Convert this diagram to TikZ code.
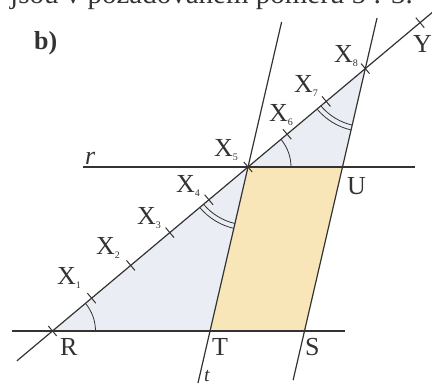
\documentclass[tikz,border=0pt]{standalone}
\usepackage{fontspec}
\setmainfont{Liberation Serif}
\usetikzlibrary{calc}
\definecolor{ink}{HTML}{333333}
\definecolor{paral}{HTML}{F8E6B8}
\definecolor{tri}{HTML}{EAEEF4}
\newcommand\Xs[1]{\raisebox{-3.5pt}{\fontsize{10}{10}\selectfont #1}}
\begin{document}
\begin{tikzpicture}[x=1pt,y=1pt,
  ln/.style={draw=ink, line width=1.2pt},
  tickmark/.style={draw=ink, line width=1pt},
  lab/.style={inner sep=0pt, anchor=base west, font=\fontsize{26}{26}\selectfont, text=ink},
  arcmark/.style={draw=ink, line width=0.8pt}]
\useasboundingbox (0,0) rectangle (432,387);
% points
\coordinate (R) at (52.5,56);
\foreach \i in {1,...,8} \coordinate (X\i) at ($(R)+\i*(39.1,32.8)$);
\coordinate (Yt) at ($(R)+9.4*(39.1,32.8)$);
\coordinate (La) at ($(R)-0.91*(39.1,32.8)$);
\coordinate (Lb) at ($(R)+9.95*(39.1,32.8)$);
\coordinate (T) at (210,56);
\coordinate (S) at (304.5,56);
\coordinate (U) at (342.5,220);
\coordinate (t1) at (281.6,365);
\coordinate (t2) at (198,4);
\coordinate (s1) at (377,368.9);
\coordinate (s2) at (293.1,6.8);
\coordinate (b1) at (12,56);
\coordinate (b2) at (345,56);
\coordinate (r1) at (83,220);
\coordinate (r2) at (415,220);
% fills
\fill[tri] (R) -- (S) -- (X8) -- cycle;
\fill[paral] (X5) -- (T) -- (S) -- (U) -- cycle;
% lines
\draw[ln] (b1) -- (b2);
\draw[ln] (r1) -- (r2);
\draw[ln] (La) -- (Lb);
\draw[ln] (t1) -- (t2);
\draw[ln] (s1) -- (s2);
% ticks
\foreach \p in {R,X1,X2,X3,X4,X5,X6,X7,X8,Yt}
  \draw[tickmark] ($(\p)+(-4.2,5)$) -- ($(\p)+(4.2,-5)$);
% angle marks
\draw[arcmark] ($(R)+(43,0)$) arc[start angle=0, end angle=40, radius=43];
\draw[arcmark] ($(X5)+(43,0)$) arc[start angle=0, end angle=40, radius=43];
\draw[arcmark] ($(X5)+(220:58)$) arc[start angle=220, end angle=256.95, radius=58];
\draw[arcmark] ($(X5)+(220:63)$) arc[start angle=220, end angle=256.95, radius=63];
\draw[arcmark] ($(X8)+(220:58)$) arc[start angle=220, end angle=256.95, radius=58];
\draw[arcmark] ($(X8)+(220:63)$) arc[start angle=220, end angle=256.95, radius=63];
% labels
\node[inner sep=0pt, anchor=base west, font=\fontsize{29}{29}\selectfont, text=ink] (head) at (10,383.5) {jsou v požadovaném poměru 5 : 3.};
\node[lab, font=\bfseries\fontsize{26}{26}\selectfont] (lb) at (34,337) {b)};
\node[lab] (lX1) at (57,102) {X\Xs{1}};
\node[lab] (lX2) at (96,132) {X\Xs{2}};
\node[lab] (lX3) at (137,162) {X\Xs{3}};
\node[lab] (lX4) at (176,194) {X\Xs{4}};
\node[lab] (lX5) at (214,230) {X\Xs{5}};
\node[lab] (lX6) at (269,265) {X\Xs{6}};
\node[lab] (lX7) at (294,294) {X\Xs{7}};
\node[lab] (lX8) at (334,324) {X\Xs{8}};
\node[lab] (lY) at (413,334) {Y};
\node[lab] (lU) at (347,192) {U};
\node[lab] (lR) at (60,31) {R};
\node[lab] (lT) at (212,31) {T};
\node[lab] (lS) at (305,31) {S};
\node[lab, font=\itshape\fontsize{20}{20}\selectfont] (lt) at (204,5) {t};
\node[lab, font=\itshape\fontsize{26}{26}\selectfont] (lr) at (85,222) {r};
\end{tikzpicture}
\end{document}
